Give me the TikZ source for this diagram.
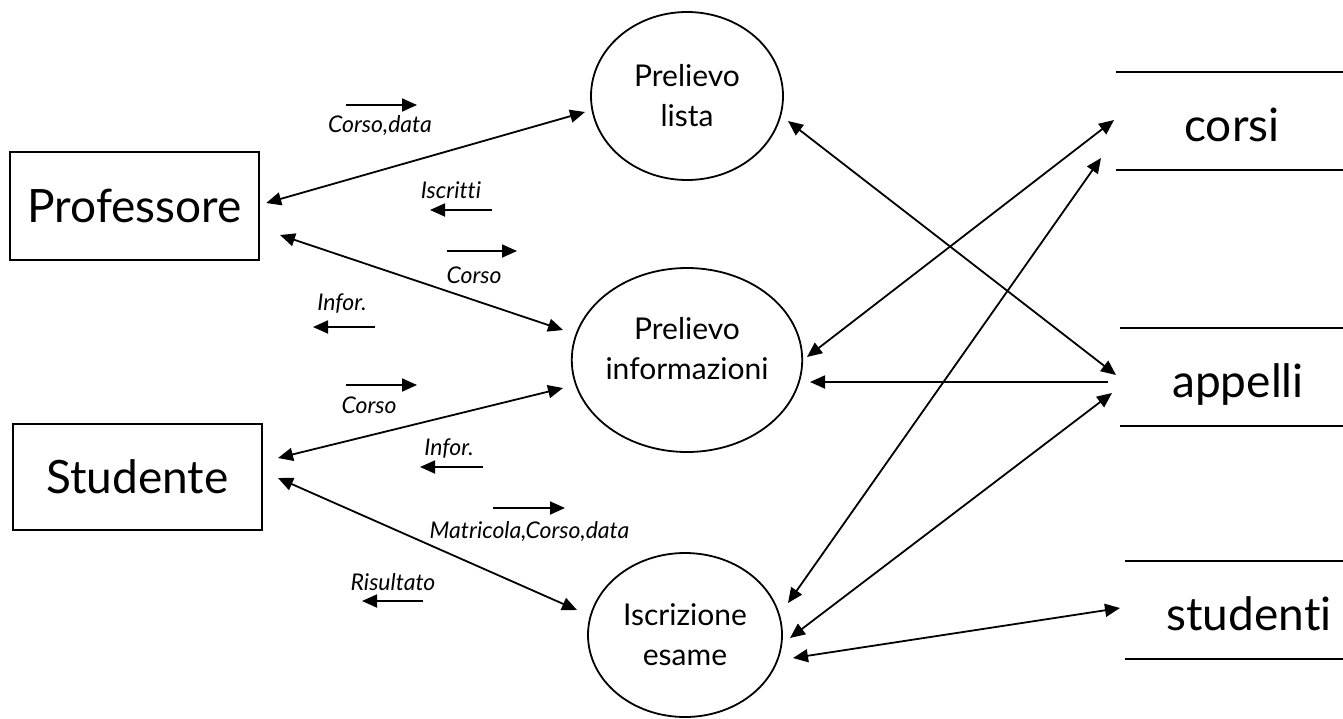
\documentclass[tikz,border=0pt]{standalone}
\usepackage{fontspec}
\setmainfont{Lato}[Ligatures={NoCommon,NoRare,NoContextual}]
\usetikzlibrary{calc}
\usetikzlibrary{arrows.meta}
\usetikzlibrary{shapes.geometric}

\tikzset{
	actor/.style={draw, line width=2.4pt, rectangle, minimum width=249pt, inner sep=0pt, font=\fontsize{46}{52}\selectfont},
	proc/.style={draw, ellipse, line width=1.8pt, inner sep=0pt, align=center, font=\fontsize{30}{40}\selectfont},
	store/.style={inner sep=0pt, minimum height=98pt, text height=40pt, text depth=0pt, font=\fontsize{46}{52}\selectfont},
	storeline/.style={line width=1.8pt},
	flow/.style={line width=1.8pt, {Triangle[length=15pt,width=13pt]}-{Triangle[length=15pt,width=13pt]}},
	oneway/.style={line width=1.8pt, -{Triangle[length=15pt,width=13pt]}},
	tag/.style={anchor=base, inner sep=0pt, font=\itshape\fontsize{23}{26}\selectfont},
	tagarrow/.style={line width=1.8pt, -{Triangle[length=15pt,width=13pt]}}
}

\begin{document}
\begin{tikzpicture}[x=1pt, y=-1pt]
				\clip (0,0) rectangle (1343,718);
				\node[actor, minimum height=108pt] (prof) at (134.5,206) {Professore};
				\node[actor, minimum height=106pt] (stud) at (137.5,477) {Studente};
				
				\node[proc, minimum width=192pt, minimum height=168pt] (pl) at (687,96) {Prelievo\\lista};
				\node[proc, minimum width=210pt, minimum height=184pt, text depth=23pt] (pi) at (687,360) {Prelievo\\informazioni};
				\node[proc, minimum width=194pt, minimum height=164pt] (ie) at (685,635) {Iscrizione\\esame};
				
				\node[store, minimum width=232pt] (corsi) at (1232,121) {corsi};
				\node[store, minimum width=236pt] (appelli) at (1238,377) {appelli};
				\node[store, minimum width=248pt] (studenti) at (1249,610) {studenti};
				\draw[storeline] (corsi.north west) -- (corsi.north east);
				\draw[storeline] (corsi.south west) -- (corsi.south east);
				\draw[storeline] (appelli.north west) -- (appelli.north east);
				\draw[storeline] (appelli.south west) -- (appelli.south east);
				\draw[storeline] (studenti.north west) -- (studenti.north east);
				\draw[storeline] (studenti.south west) -- (studenti.south east);
				
				\draw[flow] ($(prof.east)+(6,-3)$) -- ($(pl)+(-102,16)$);
				\draw[flow] ($(prof)+(145.5,29)$) -- ($(pi)+(-124,-30)$);
				\draw[flow] ($(stud)+(140.5,-19)$) -- ($(pi)+(-124,28)$);
				\draw[flow] ($(stud)+(140.5,1)$) -- ($(ie)+(-108,-25)$);
				\draw[flow] ($(pl)+(101,25)$) -- ($(appelli)+(-122,-2)$);
				\draw[flow] ($(corsi)+(-118,-1)$) -- ($(pi)+(120,-3)$);
				\draw[oneway] ($(appelli)+(-130,5)$) -- ($(pi)+(123,22)$);
				\draw[flow] ($(corsi)+(-131,37)$) -- ($(ie)+(103,-32)$);
				\draw[flow] ($(appelli)+(-126,16)$) -- ($(ie)+(105,3)$);
				\draw[flow] ($(studenti)+(-129,-2)$) -- ($(ie)+(108,23)$);
				
				\node[tag] (cd) at (380,132) {Corso,data};
				\node[tag] (isc) at (451,198) {Iscritti};
				\node[tag] (cp) at (474,283) {Corso};
				\node[tag] (inp) at (342,310) {Infor.};
				\node[tag] (cs) at (369,413) {Corso};
				\node[tag] (ins) at (449,455) {Infor.};
				\node[tag] (mcd) at (529.5,538) {Matricola,Corso,data};
				\node[tag] (ris) at (393,590) {Risultato};
				
				\draw[tagarrow] ($(cd.base)+(-34,-27)$) -- ++(71,0);
				\draw[tagarrow] ($(isc.base)+(41,12)$) -- ++(-62,0);
				\draw[tagarrow] ($(cp.base)+(-27,-32)$) -- ++(70,0);
				\draw[tagarrow] ($(inp.base)+(33,17)$) -- ++(-62,0);
				\draw[tagarrow] ($(cs.base)+(-23,-28)$) -- ++(71,0);
				\draw[tagarrow] ($(ins.base)+(34,12)$) -- ++(-63,0);
				\draw[tagarrow] ($(mcd.base)+(-36.5,-30)$) -- ++(72,0);
				\draw[tagarrow] ($(ris.base)+(30,11)$) -- ++(-61,0);
			\end{tikzpicture}
\end{document}
